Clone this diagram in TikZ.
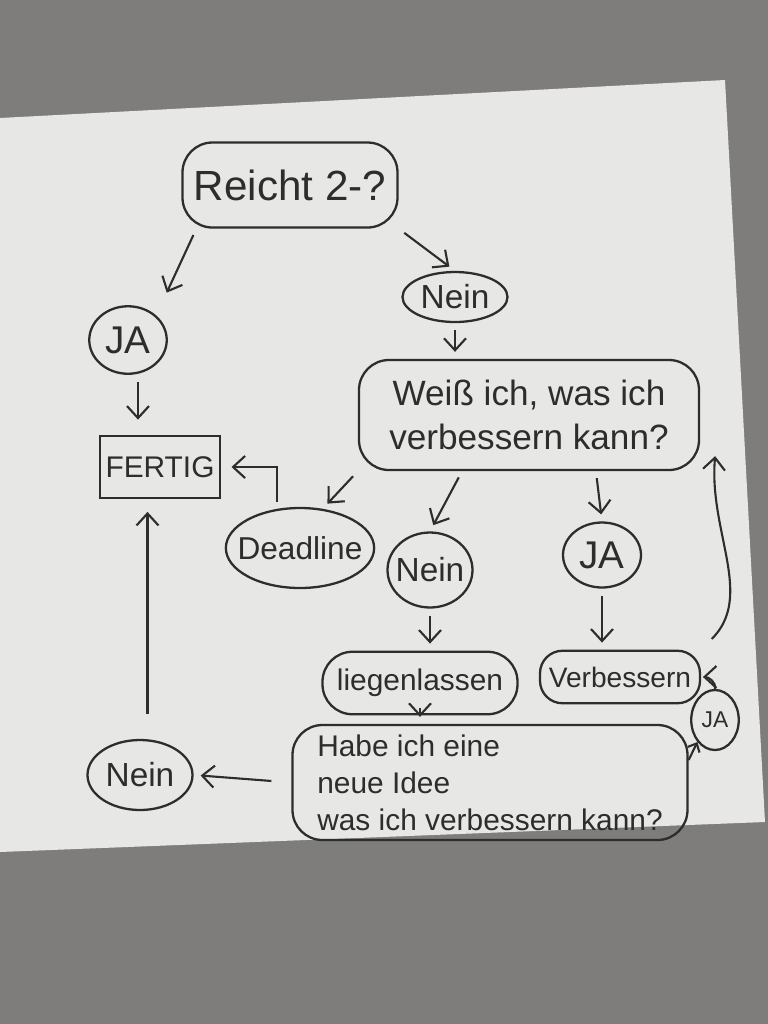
\documentclass[tikz,border=0pt]{standalone}
\usepackage{fontspec}
\setmainfont{Liberation Sans}
\usepackage{tikz}
\usetikzlibrary{arrows.meta,shapes.geometric}
\definecolor{felt}{RGB}{126,125,123}
\definecolor{paper}{RGB}{231,231,229}
\definecolor{ink}{RGB}{45,45,45}

\begin{document}
\begin{tikzpicture}[
  blob/.style={draw=ink,line width=1.3pt,rounded corners=0.6cm,align=center,inner sep=2pt},
  bubble/.style={draw=ink,line width=1.3pt,ellipse,inner sep=0pt},
  arr/.style={-{Straight Barb[length=2.4mm,width=4.4mm]},draw=ink,line width=1.2pt,shorten >=4pt,shorten <=4pt},
  every node/.style={text=ink}
]
\useasboundingbox (0,0) rectangle (15.36,-20.48);
\fill[felt] (0,0) rectangle (15.36,-20.48);
\fill[paper] (0,-2.36) -- (14.5,-1.6) -- (15.3,-16.44) -- (0,-17.04) -- cycle;

\node[blob,minimum width=4.3cm,minimum height=1.7cm,font=\fontsize{24}{28}\selectfont] (q1) at (5.8,-3.7) {Reicht 2-?};
\node[bubble,minimum width=1.55cm,minimum height=1.35cm,font=\fontsize{22}{24}\selectfont] (ja1) at (2.56,-6.8) {JA};
\node[bubble,minimum width=2.1cm,minimum height=1.0cm,font=\fontsize{19}{22}\selectfont] (nein1) at (9.1,-5.94) {Nein};
\node[blob,minimum width=6.8cm,minimum height=2.2cm,font=\fontsize{20}{25}\selectfont] (q2) at (10.58,-8.3) {Weiß ich, was ich\\ verbessern kann?};
\node[draw=ink,line width=1.3pt,minimum width=2.25cm,minimum height=1.25cm,font=\fontsize{17}{20}\selectfont] (fertig) at (3.2,-9.34) {FERTIG};
\node[bubble,inner xsep=-0.2cm,minimum width=2.9cm,minimum height=1.6cm,font=\fontsize{18}{20}\selectfont] (deadline) at (6.0,-10.96) {Deadline};
\node[bubble,inner xsep=-0.1cm,minimum width=1.7cm,minimum height=1.5cm,font=\fontsize{19}{22}\selectfont] (nein2) at (8.6,-11.4) {Nein};
\node[bubble,minimum width=1.56cm,minimum height=1.3cm,font=\fontsize{22}{24}\selectfont] (ja2) at (12.04,-11.1) {JA};
\node[blob,minimum width=3.9cm,minimum height=1.25cm,font=\fontsize{17}{20}\selectfont] (liegen) at (8.4,-13.66) {liegenlassen};
\node[blob,minimum width=3.2cm,minimum height=1.05cm,rounded corners=0.45cm,font=\fontsize{16}{19}\selectfont] (verb) at (12.4,-13.54) {Verbessern};
\node[bubble,minimum width=0.95cm,minimum height=1.2cm,font=\fontsize{13}{15}\selectfont] (ja3) at (14.3,-14.4) {JA};
\node[blob,minimum width=7.9cm,minimum height=2.3cm,align=left,font=\fontsize{17}{21}\selectfont] (q3) at (9.8,-15.65) {Habe ich eine\\ neue Idee\\ was ich verbessern kann?};
\node[bubble,minimum width=2.1cm,minimum height=1.4cm,font=\fontsize{19}{22}\selectfont] (nein3) at (2.8,-15.5) {Nein};

\draw[arr,shorten >=0.5cm] ([xshift=0.3cm]q1.south west) -- (ja1.north east);
\draw[arr] (q1.south east) -- (nein1.north);
\draw[arr,shorten >=0.3cm] ([xshift=0.2cm]ja1.south) -- ([xshift=0.2cm]ja1.south |- fertig.north);
\draw[arr] (nein1.south) -- (nein1.south |- q2.north);
\draw[arr] (q2.south west) -- (deadline.60);
\draw[arr] (q2.220) -- (nein2.north);
\draw[arr] (q2.320) -- (ja2.north);
\draw[arr,shorten >=0.2cm] (deadline.120) |- (fertig.east);
\draw[arr] (nein2.south) -- (nein2.south |- liegen.north);
\draw[arr] (ja2.south) -- (ja2.south |- verb.north);
\draw[arr] (liegen.south) -- (liegen.south |- q3.north);
\draw[arr,shorten <=0.4cm] (q3.west) -- (nein3.east);
\draw[arr,shorten <=0.5cm,shorten >=0.25cm] ([xshift=0.15cm]nein3.north) -- ([xshift=0.15cm]nein3.north |- fertig.south);
\draw[arr,-{Straight Barb[length=1.4mm,width=2.6mm]},shorten <=0pt,shorten >=0pt] ([yshift=0.45cm]q3.east) -- (ja3.south west);
\draw[arr,shorten <=0pt,shorten >=1pt] (ja3.north) to[out=80,in=0] (verb.east);
\draw[arr,shorten <=0.3cm,shorten >=0pt] (verb.north east) to[out=45,in=-95] ([shift={(0.3cm,0.3cm)}]q2.south east);
\end{tikzpicture}
\end{document}
